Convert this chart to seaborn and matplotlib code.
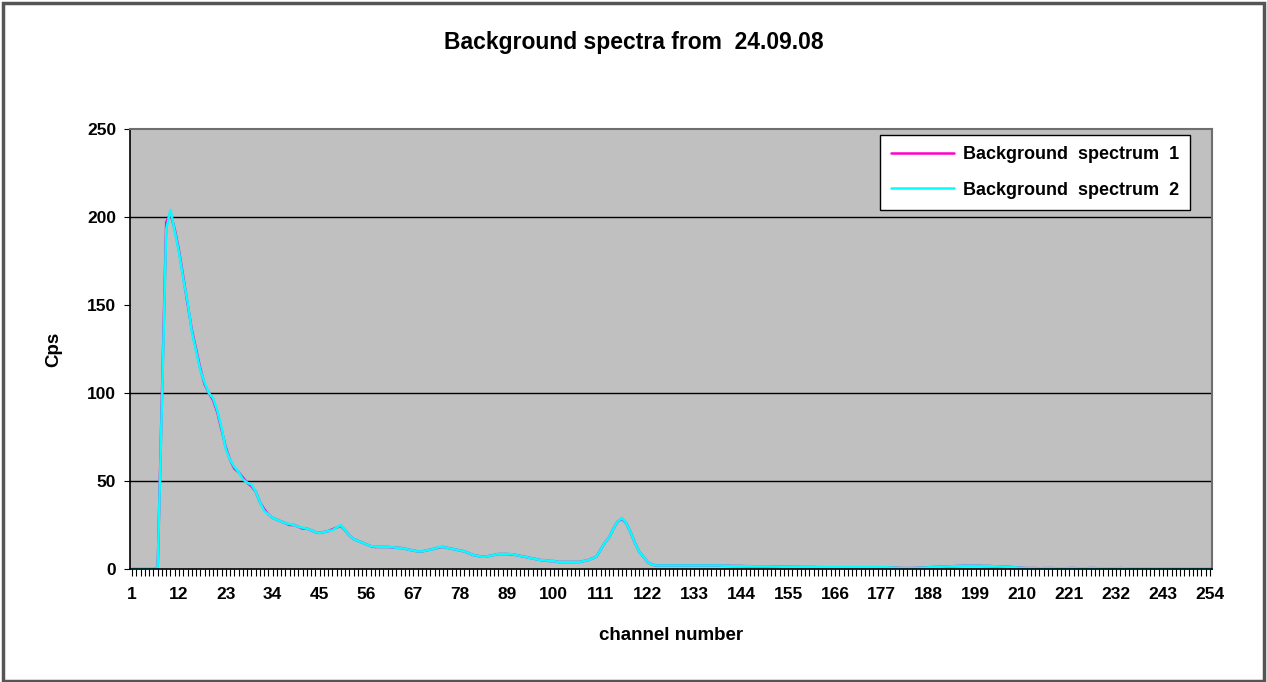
import numpy as np
import pandas as pd
import matplotlib
matplotlib.use("Agg")
import matplotlib.pyplot as plt
from matplotlib.patches import Rectangle
import seaborn as sns

title = "Background spectra from  24.09.08"
x_label = "channel number"
y_label = "Cps"
series_names = ["Background  spectrum  1", "Background  spectrum  2"]
channels = list(range(1, 255))

spectrum_1 = [
    0, 0, 0, 0, 0, 0, 0.5, 98, 197, 202,
    193, 181, 166, 151, 136, 125, 114, 105, 100, 96,
    89, 79, 69, 62, 57, 55, 52, 49, 47, 44,
    38, 34, 31, 29, 28, 27, 26, 25, 25, 24,
    23, 23, 22, 21, 20.5, 21, 21.5, 22.5, 23.5, 24.5,
    22, 19, 17, 16, 15, 14, 13, 12.5, 12.5, 12.5,
    12.5, 12.3, 12, 12, 11.5, 11, 10.5, 10, 10, 10.5,
    11, 11.5, 12.3, 12.5, 12, 11.5, 11, 10.5, 10, 9,
    8, 7.5, 7, 7, 7.5, 8, 8.5, 8.5, 8.5, 8.3,
    8, 7.5, 7, 6.5, 6, 5.5, 5, 5, 4.5, 4.5,
    4, 4, 4, 4, 4, 4, 4.5, 5, 6, 7,
    11, 15, 18, 23, 27, 28.5, 26, 21, 15, 10,
    7, 4, 2.5, 2, 2, 2, 2, 2, 2, 2,
    2, 2, 2, 2, 2, 2, 2, 2, 1.9, 1.8,
    1.8, 1.7, 1.7, 1.7, 1.6, 1.6, 1.5, 1.5, 1.5, 1.5,
    1.4, 1.4, 1.3, 1.3, 1.2, 1.2, 1.2, 1.1, 1.1, 1.1,
    1.1, 1.0, 1.0, 1.0, 1.0, 1.0, 1.0, 1.0, 1.0, 1.0,
    1.0, 1.0, 1.0, 1.0, 1.0, 1.0, 1.0, 1.0, 0.9, 0.8,
    0.6, 0.5, 0.5, 0.5, 0.6, 0.7, 0.8, 1.0, 1.1, 1.2,
    1.3, 1.4, 1.5, 1.6, 1.7, 1.8, 1.8, 1.8, 1.8, 1.8,
    1.7, 1.7, 1.6, 1.5, 1.4, 1.3, 1.2, 1.0, 0.8, 0.6,
    0.5, 0.5, 0.5, 0.4, 0.5, 0.5, 0.5, 0.4, 0.4, 0.4,
    0.5, 0.5, 0.4, 0.4, 0.4, 0.5, 0.5, 0.4, 0.4, 0.4,
    0.4, 0.4, 0.5, 0.4, 0.4, 0.4, 0.4, 0.4, 0.4, 0.4,
    0.4, 0.4, 0.4, 0.4, 0.4, 0.4, 0.4, 0.4, 0.4, 0.4,
    0.4, 0.4, 0.4, 0.4,
]

spectrum_2 = [
    0, 0, 0, 0, 0, 0, 0.5, 95, 193, 204,
    192, 180, 165, 152, 135, 124, 113, 106, 100, 97,
    90, 80, 68, 62, 58, 55, 51, 49, 48, 44,
    38, 33, 31, 29, 28, 27, 26, 25.5, 25, 24,
    23.5, 23, 22, 21, 20.5, 21, 21.5, 22, 23.5, 25,
    22, 19, 17, 16, 15, 14, 13, 12.7, 12.5, 12.5,
    12.5, 12.5, 12, 12, 11.5, 11, 10.5, 10, 10, 10.5,
    11, 11.5, 12.5, 12.5, 12, 11.5, 11, 10.5, 10, 9,
    8, 7.5, 7, 7, 7.5, 8, 8.5, 8.5, 8.5, 8.5,
    8, 7.5, 7, 6.5, 6, 5.5, 5, 5, 4.5, 4.5,
    4, 4, 4, 4, 4, 4, 4.5, 5, 6, 7,
    11, 15, 18, 23, 27, 29, 26, 21, 15, 10,
    7, 4, 2.5, 2, 2, 2, 2, 2, 2, 2,
    2, 2, 2, 2, 2, 2, 2, 2, 2, 1.8,
    1.8, 1.7, 1.7, 1.7, 1.6, 1.6, 1.5, 1.5, 1.5, 1.5,
    1.4, 1.4, 1.3, 1.3, 1.2, 1.2, 1.2, 1.1, 1.1, 1.1,
    1.1, 1.0, 1.0, 1.0, 1.0, 1.0, 1.0, 1.0, 1.0, 1.0,
    1.0, 1.0, 1.0, 1.0, 1.0, 1.0, 1.0, 1.0, 0.9, 0.8,
    0.6, 0.5, 0.5, 0.5, 0.6, 0.7, 0.8, 1.0, 1.1, 1.2,
    1.3, 1.4, 1.5, 1.6, 1.7, 1.8, 1.8, 1.8, 1.8, 1.8,
    1.7, 1.7, 1.6, 1.5, 1.4, 1.3, 1.2, 1.0, 0.8, 0.6,
    0.5, 0.5, 0.4, 0.4, 0.5, 0.5, 0.5, 0.4, 0.4, 0.4,
    0.5, 0.5, 0.4, 0.4, 0.4, 0.5, 0.5, 0.4, 0.4, 0.4,
    0.4, 0.4, 0.5, 0.4, 0.4, 0.4, 0.4, 0.4, 0.4, 0.4,
    0.4, 0.4, 0.4, 0.4, 0.4, 0.4, 0.4, 0.4, 0.4, 0.4,
    0.4, 0.4, 0.4, 0.4,
]

y_ticks = [0, 50, 100, 150, 200, 250]
grid_values = [50, 100, 200]
x_label_channels = list(range(1, 255, 11))

df = pd.DataFrame({
    "channel": channels * 2,
    "cps": spectrum_1 + spectrum_2,
    "series": [series_names[0]] * len(channels) + [series_names[1]] * len(channels),
})

sns.set_theme(style="white")
plt.rcParams["font.family"] = ["Liberation Sans", "DejaVu Sans"]
plt.rcParams["text.color"] = "black"
plt.rcParams["axes.labelcolor"] = "black"
plt.rcParams["xtick.color"] = "black"
plt.rcParams["ytick.color"] = "black"

fig = plt.figure(figsize=(12.67, 6.82), dpi=100)
fig.patch.set_facecolor("white")
ax = fig.add_axes([130 / 1267, 1 - 569 / 682, 1082 / 1267, 440 / 682])
ax.set_facecolor("#c0c0c0")

sns.lineplot(data=df, x="channel", y="cps", hue="series",
             palette=["#ff00cc", "#00ffff"], linewidth=1.8, ax=ax,
             legend=True)

for g in grid_values:
    ax.axhline(g, color="black", linewidth=1.0, zorder=1)

ax.set_xlim(0.5, 254.5)
ax.set_ylim(0, 250)
ax.set_yticks(y_ticks)
ax.set_yticklabels([str(v) for v in y_ticks], fontsize=12.5, fontweight="bold")
ax.set_xticks(channels)
ax.set_xticklabels([str(c) if c in x_label_channels else "" for c in channels],
                   fontsize=12.5, fontweight="bold")
ax.tick_params(axis="x", bottom=True, direction="out", length=5, width=0.8,
               color="black", labelcolor="black", pad=8)
ax.tick_params(axis="y", left=True, direction="out", length=4, width=0.8,
               color="black", labelcolor="black", pad=6)

for s in ["left", "bottom"]:
    ax.spines[s].set_color("black")
    ax.spines[s].set_linewidth(1.2)
for s in ["top", "right"]:
    ax.spines[s].set_color("#6e6e6e")
    ax.spines[s].set_linewidth(1.5)

ax.set_xlabel(x_label, fontsize=13.5, fontweight="bold", labelpad=18, color="black")
ax.set_ylabel(y_label, fontsize=13.5, fontweight="bold", labelpad=18, color="black")

fig.text(0.5, 1 - 42 / 682, title, ha="center", va="center",
         fontsize=16.5, fontweight="bold", color="black")

leg = ax.legend(loc="upper right", bbox_to_anchor=(1190 / 1267, 1 - 135 / 682),
                bbox_transform=fig.transFigure, frameon=True, fancybox=False,
                borderaxespad=0,
                prop={"weight": "bold", "size": 13}, handlelength=3.5,
                labelspacing=1.05, borderpad=0.6, handletextpad=0.5)
leg.get_frame().set_edgecolor("black")
leg.get_frame().set_linewidth(1.0)
leg.get_frame().set_facecolor("white")
leg.get_frame().set_alpha(1)
for text in leg.get_texts():
    text.set_color("black")
for line in leg.get_lines():
    line.set_linewidth(1.8)

fig.patches.append(Rectangle((0.002, 0.002), 0.996, 0.994, transform=fig.transFigure,
                             fill=False, edgecolor="#555555", linewidth=2.5))

fig.savefig("out.png", dpi=100, facecolor="white")
